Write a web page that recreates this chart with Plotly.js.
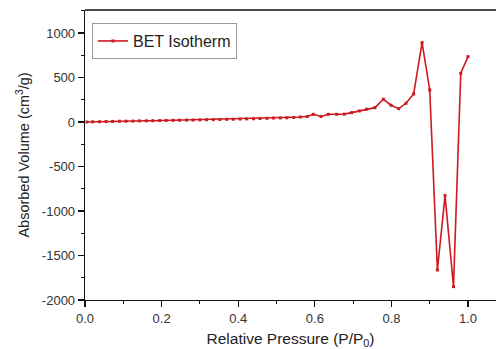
<!DOCTYPE html>
<html>
<head>
<meta charset="utf-8">
<script src="https://cdn.plot.ly/plotly-3.0.1.min.js"></script>
<style>html,body{margin:0;padding:0;background:#fff;}#chart{width:496px;height:349px;}</style>
</head>
<body>
<div id="chart"></div>
<script>
const pressure = [0.005, 0.02, 0.038, 0.055, 0.072, 0.09, 0.107, 0.125, 0.142, 0.16, 0.177, 0.195, 0.212, 0.23, 0.247, 0.265, 0.282, 0.3, 0.317, 0.335, 0.352, 0.37, 0.387, 0.405, 0.422, 0.44, 0.457, 0.475, 0.492, 0.51, 0.527, 0.545, 0.562, 0.58, 0.596, 0.616, 0.635, 0.657, 0.677, 0.696, 0.716, 0.735, 0.757, 0.779, 0.799, 0.819, 0.838, 0.858, 0.88, 0.9, 0.92, 0.94, 0.962, 0.981, 1.0];
const volume = [0, 2, 3, 5, 6, 8, 9, 10, 12, 13, 14, 16, 17, 19, 20, 21, 22, 24, 25, 26, 28, 30, 31, 33, 35, 36, 39, 41, 44, 45, 47, 50, 56, 62, 86, 62, 86, 86, 88, 105, 124, 143, 161, 255, 188, 150, 210, 315, 891, 360, -1663, -827, -1850, 547, 734];
const seriesName = 'BET Isotherm';
const xTickVals = [0, 0.2, 0.4, 0.6, 0.8, 1.0];
const xTickText = ['0.0', '0.2', '0.4', '0.6', '0.8', '1.0'];
const yTickVals = [-2000, -1500, -1000, -500, 0, 500, 1000];
const yTickText = ['-2000', '-1500', '-1000', '-500', '0', '500', '1000'];

const trace = {
  x: pressure, y: volume, name: seriesName,
  type: 'scatter', mode: 'lines+markers',
  line: {color: '#cc1a1f', width: 1.6},
  marker: {color: '#cc1a1f', size: 3, symbol: 'square'}
};
const font = {family: 'Liberation Sans, Arial, sans-serif', color: '#222'};
const layout = {
  width: 496, height: 349,
  margin: {l: 85, r: 0, t: 10, b: 49},
  paper_bgcolor: '#fff', plot_bgcolor: '#fff',
  font: font,
  showlegend: true,
  legend: {x: 0.017, y: 0.955, xanchor: 'left', yanchor: 'top', bgcolor: '#fff',
           bordercolor: '#999', borderwidth: 1, font: {size: 16, family: font.family, color: '#222'},
           tracegroupgap: 0},
  shapes: [{type: 'line', xref: 'paper', yref: 'paper', x0: 0, x1: 1, y0: 1, y1: 1,
            line: {color: '#111', width: 1.3}}],
  xaxis: {
    range: [0, 1.073], showgrid: false, zeroline: false,
    showline: true, linecolor: '#111', linewidth: 1.3,
    ticks: 'outside', ticklen: 6, tickwidth: 1.2, tickcolor: '#111',
    tickvals: xTickVals, ticktext: xTickText,
    tickfont: {size: 13, family: font.family, color: '#333'},
    minor: {ticks: 'outside', ticklen: 3, tickcolor: '#111', tickwidth: 1, dtick: 0.1, tick0: 0},
    title: {text: 'Relative Pressure (P/P<sub>0</sub>)', font: {size: 15.5, family: font.family, color: '#222'}, standoff: 8}
  },
  yaxis: {
    range: [-2000, 1258], showgrid: false, zeroline: false,
    showline: true, linecolor: '#111', linewidth: 1.3,
    ticks: 'outside', ticklen: 6, tickwidth: 1.2, tickcolor: '#111',
    tickvals: yTickVals, ticktext: yTickText,
    tickfont: {size: 13, family: font.family, color: '#333'},
    minor: {ticks: 'outside', ticklen: 3, tickcolor: '#111', tickwidth: 1, dtick: 250, tick0: 0},
    title: {text: 'Absorbed Volume (cm<sup>3</sup>/g)', font: {size: 14.5, family: font.family, color: '#222'}, standoff: 8}
  }
};
Plotly.newPlot('chart', [trace], layout, {displayModeBar: false, staticPlot: true});
</script>
</body>
</html>
